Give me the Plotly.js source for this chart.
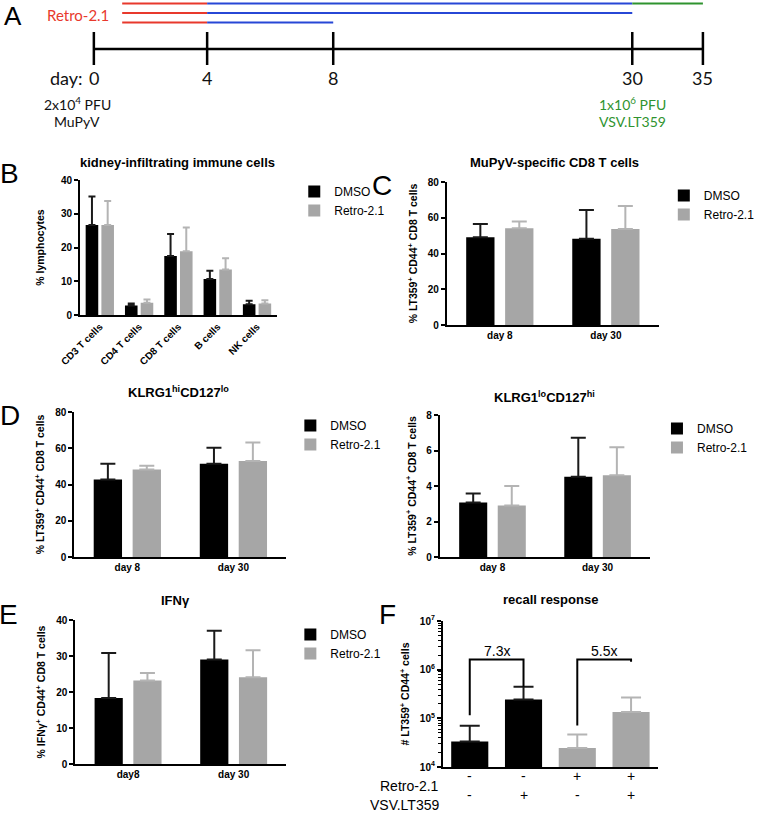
<!DOCTYPE html>
<html><head><meta charset="utf-8">
<script src="https://cdn.plot.ly/plotly-3.0.1.min.js"></script>
<style>html,body{margin:0;padding:0;background:#fff}#chart{width:760px;height:814px}</style>
</head><body><div id="chart"></div>
<script>
// ---------------- DATA ----------------
// Panel A: treatment schedule (days)
const timelineDays = [0, 4, 8, 30, 35];
const timelineLabels = ['0', '4', '8', '30', '35'];
const armRetroStart = [1, 1, 1];
const armRetroEnd = [4, 4, 4];
const armBlueEnd = [30, 30, 8];
const armGreenEnd = [35, null, null];

// Panel B
const bCats = ['CD3 T cells', 'CD4 T cells', 'CD8 T cells', 'B cells', 'NK cells'];
const bDmso = [26.7, 2.8, 17.5, 10.7, 3.2];
const bDmsoErr = [8.4, 0.6, 6.5, 2.4, 1.0];
const bRetro = [26.7, 3.6, 18.9, 13.5, 3.4];
const bRetroErr = [7.1, 1.0, 7.0, 3.3, 1.0];

// Panel C
const dayCats = ['day 8', 'day 30'];
const cDmso = [49.1, 48.3];
const cDmsoErr = [7.4, 16.0];
const cRetro = [54.1, 53.7];
const cRetroErr = [3.8, 12.9];

// Panel D (left: KLRG1hi CD127lo)
const dlDmso = [42.8, 51.4];
const dlDmsoErr = [8.6, 8.9];
const dlRetro = [48.3, 52.9];
const dlRetroErr = [2.0, 10.3];

// Panel D (right: KLRG1lo CD127hi)
const drDmso = [3.07, 4.52];
const drDmsoErr = [0.51, 2.2];
const drRetro = [2.9, 4.6];
const drRetroErr = [1.1, 1.58];

// Panel E
const eCats = ['day8', 'day 30'];
const eDmso = [18.3, 29.0];
const eDmsoErr = [12.5, 8.0];
const eRetro = [23.2, 24.1];
const eRetroErr = [2.1, 7.5];

// Panel F
const fRetroRow = ['-', '-', '+', '+'];
const fVsvRow = ['-', '+', '-', '+'];
const fDmso = [33500, 245000];
const fDmsoErr = [36500, 202000];
const fRetro = [24500, 135000];
const fRetroErr = [22000, 132000];
const fFold = ['7.3x', '5.5x'];
const bracket1Y = [116000, 1620000, 1620000, 447000];
const bracket2Y = [71000, 1620000, 1620000, 1450000];

// ---------------- STYLE / LAYOUT HELPERS ----------------
const W = 760, H = 814;
const px = v => v / W;
const py = v => 1 - v / H;
const F = 'Liberation Sans, Arial, sans-serif';
const FA = 'Lato, Open Sans, sans-serif';
const BLACK = '#000000', GRAY = '#a6a6a6', GRAYERR = '#b4b4b4', DERR = '#1a1a1a';
const RED = '#e8392c', BLUE = '#2747d6', GREEN = '#2f932f';

// schematic (not-to-scale) tick positions of the timeline
const tickFrac = [0, 0.186, 0.393, 0.884, 1];
function dayToX(d) {
  for (let i = 0; i < timelineDays.length - 1; i++) {
    const a = timelineDays[i], b = timelineDays[i + 1];
    if (d >= a && d <= b) return tickFrac[i] + (d - a) / (b - a) * (tickFrac[i + 1] - tickFrac[i]);
  }
  return 1;
}
const armRowY = [3.5, 13, 22.5];
const lineY = 49, tickTop = 32, tickBot = 65;

const traces = [];
// ---- Panel A traces ----
traces.push({type: 'scatter', mode: 'lines', xaxis: 'x', yaxis: 'y', showlegend: false, hoverinfo: 'skip',
  x: [dayToX(timelineDays[0]), dayToX(timelineDays[timelineDays.length - 1])], y: [lineY, lineY],
  line: {color: BLACK, width: 2.5}});
const tx = [], ty = [];
timelineDays.forEach(d => { tx.push(dayToX(d), dayToX(d), null); ty.push(tickTop, tickBot, null); });
traces.push({type: 'scatter', mode: 'lines', xaxis: 'x', yaxis: 'y', showlegend: false, hoverinfo: 'skip',
  x: tx, y: ty, line: {color: BLACK, width: 2.5}});
armRowY.forEach((yy, i) => {
  traces.push({type: 'scatter', mode: 'lines', xaxis: 'x', yaxis: 'y', showlegend: false, hoverinfo: 'skip',
    x: [dayToX(armRetroStart[i]), dayToX(armRetroEnd[i])], y: [yy, yy], line: {color: RED, width: 2}});
  traces.push({type: 'scatter', mode: 'lines', xaxis: 'x', yaxis: 'y', showlegend: false, hoverinfo: 'skip',
    x: [dayToX(armRetroEnd[i]), dayToX(armBlueEnd[i])], y: [yy, yy], line: {color: BLUE, width: 2}});
  if (armGreenEnd[i] != null) {
    traces.push({type: 'scatter', mode: 'lines', xaxis: 'x', yaxis: 'y', showlegend: false, hoverinfo: 'skip',
      x: [dayToX(armBlueEnd[i]), dayToX(armGreenEnd[i])], y: [yy, yy], line: {color: GREEN, width: 2}});
  }
});

// ---- grouped bar helper ----
function errObj(arr, color, w) {
  return {type: 'data', symmetric: false, array: arr, arrayminus: arr.map(() => 0), color: color, thickness: 2, width: w};
}
function pair(cats, d, de, r, re, xa, ya, legend, w, gap, capW) {
  traces.push({type: 'bar', name: 'DMSO', x: cats, y: d, xaxis: xa, yaxis: ya, legend: legend,
    marker: {color: BLACK, line: {width: 0}}, width: w, offset: -(w + gap / 2),
    error_y: errObj(de, DERR, capW), hoverinfo: 'y'});
  traces.push({type: 'bar', name: 'Retro-2.1', x: cats, y: r, xaxis: xa, yaxis: ya, legend: legend,
    marker: {color: GRAY, line: {width: 0}}, width: w, offset: gap / 2,
    error_y: errObj(re, GRAYERR, capW), hoverinfo: 'y'});
}
pair(bCats, bDmso, bDmsoErr, bRetro, bRetroErr, 'x2', 'y2', 'legend', 0.32, 0.08, 3.5);
pair(dayCats, cDmso, cDmsoErr, cRetro, cRetroErr, 'x3', 'y3', 'legend2', 0.267, 0.1, 7.5);
pair(dayCats, dlDmso, dlDmsoErr, dlRetro, dlRetroErr, 'x4', 'y4', 'legend3', 0.267, 0.1, 7.5);
pair(dayCats, drDmso, drDmsoErr, drRetro, drRetroErr, 'x5', 'y5', 'legend4', 0.267, 0.1, 7.5);
pair(eCats, eDmso, eDmsoErr, eRetro, eRetroErr, 'x6', 'y6', 'legend5', 0.267, 0.1, 7.5);

// ---- Panel F ----
traces.push({type: 'bar', name: 'DMSO', x: [1, 2], y: fDmso, xaxis: 'x7', yaxis: 'y7', showlegend: false,
  marker: {color: BLACK}, width: 0.69, error_y: errObj(fDmsoErr, DERR, 10)});
traces.push({type: 'bar', name: 'Retro-2.1', x: [3, 4], y: fRetro, xaxis: 'x7', yaxis: 'y7', showlegend: false,
  marker: {color: GRAY}, width: 0.69, error_y: errObj(fRetroErr, GRAYERR, 10)});
traces.push({type: 'scatter', mode: 'lines', x: [1, 1, 2, 2], y: bracket1Y, xaxis: 'x7', yaxis: 'y7', showlegend: false,
  hoverinfo: 'skip', line: {color: BLACK, width: 2}});
traces.push({type: 'scatter', mode: 'lines', x: [3, 3, 4, 4], y: bracket2Y, xaxis: 'x7', yaxis: 'y7', showlegend: false,
  hoverinfo: 'skip', line: {color: BLACK, width: 2}});

// ---------------- AXES ----------------
const tickFont = {family: F, size: 10, weight: 700, color: BLACK};
function yAx(top, bot, anchor, range, title, standoff, extra) {
  return Object.assign({domain: [py(bot), py(top)], anchor: anchor, range: range, showline: true, linewidth: 2,
    linecolor: BLACK, ticks: 'outside', ticklen: 4, tickwidth: 2, tickcolor: BLACK, showgrid: false,
    zeroline: false, tickfont: tickFont, fixedrange: true,
    title: {text: title, font: {family: F, size: 10.5, weight: 700, color: BLACK}, standoff: standoff}}, extra || {});
}
function xAx(l, r, anchor, extra) {
  return Object.assign({domain: [px(l), px(r)], anchor: anchor, showline: true, linewidth: 2, linecolor: BLACK,
    ticks: '', showgrid: false, zeroline: false, tickfont: tickFont, fixedrange: true}, extra || {});
}
function leg(xpx, ytop) {
  return {x: px(xpx), y: py(ytop), xanchor: 'left', yanchor: 'top', bgcolor: 'rgba(0,0,0,0)',
    font: {family: F, size: 12, color: BLACK}, itemwidth: 30, tracegroupgap: 0, traceorder: 'normal'};
}
const minorVals = [];
[4, 5, 6].forEach(e => { for (let k = 2; k <= 9; k++) minorVals.push(k * Math.pow(10, e)); });

const ann = [];
function txt(text, x, y, size, opts) {
  ann.push(Object.assign({text: text, x: px(x), y: py(y), xref: 'paper', yref: 'paper', showarrow: false,
    xanchor: 'center', yanchor: 'middle', font: {family: F, size: size, color: BLACK}}, opts || {}));
}
// panel letters
txt('A', 13, 16, 26);
txt('B', 10, 173, 28);
txt('C', 391, 186, 28);
txt('D', 10, 415, 28);
txt('E', 9, 614, 28);
txt('F', 396, 614, 28);
// panel A texts
txt('Retro-2.1', 80, 15, 15, {font: {family: FA, size: 15, color: RED}});
timelineDays.forEach((d, i) => {
  ann.push({text: timelineLabels[i], x: dayToX(d), y: 78, xref: 'x', yref: 'y', showarrow: false,
    xanchor: 'center', yanchor: 'middle', font: {family: FA, size: 18, color: '#111'}});
});
ann.push({text: 'day:', x: dayToX(0), y: 78, xref: 'x', yref: 'y', showarrow: false, xanchor: 'right', xshift: -9,
  yanchor: 'middle', font: {family: FA, size: 18, color: '#111'}});
txt('2x10<sup>4</sup> PFU', 79, 104, 14, {font: {family: FA, size: 14, color: '#111'}});
txt('MuPyV', 79, 122, 14, {font: {family: FA, size: 14, color: '#111'}});
txt('1x10<sup>6</sup> PFU', 647, 103, 14, {font: {family: FA, size: 14, color: GREEN}});
txt('VSV.LT359', 647, 122, 14, {font: {family: FA, size: 14, color: GREEN}});
// chart titles
const tf = {family: F, size: 13, weight: 700, color: BLACK};
txt('kidney-infiltrating immune cells', 182, 162, 13, {font: tf});
txt('MuPyV-specific CD8 T cells', 567, 162, 13, {font: tf});
txt('KLRG1<sup>hi</sup>CD127<sup>lo</sup>', 183, 392, 13, {font: tf});
txt('KLRG1<sup>lo</sup>CD127<sup>hi</sup>', 557, 397, 13, {font: tf});
txt('IFNγ', 180, 600, 13, {font: tf});
txt('recall response', 563, 599, 13, {font: tf});
// panel F
fFold.forEach((t, i) => {
  ann.push({text: t, x: 1.5 + 2 * i, y: 6.38, xref: 'x7', yref: 'y7', showarrow: false, xanchor: 'center',
    yanchor: 'middle', font: {family: F, size: 14, color: BLACK}});
});
txt('Retro-2.1', 451, 786, 14, {xanchor: 'right'});
txt('VSV.LT359', 451, 805, 14, {xanchor: 'right'});
fRetroRow.forEach((s, i) => ann.push({text: s, x: i + 1, y: py(786), xref: 'x7', yref: 'paper', showarrow: false,
  font: {family: F, size: 14, color: BLACK}}));
fVsvRow.forEach((s, i) => ann.push({text: s, x: i + 1, y: py(805), xref: 'x7', yref: 'paper', showarrow: false,
  font: {family: F, size: 14, color: BLACK}}));

const layout = {
  width: W, height: H, margin: {l: 0, r: 0, t: 0, b: 0}, paper_bgcolor: '#fff', plot_bgcolor: 'rgba(0,0,0,0)',
  font: {family: F, color: BLACK}, barmode: 'group', showlegend: true,
  xaxis: {domain: [px(90), px(725)], range: [(90 - 96) / 623, (725 - 96) / 623], visible: false, fixedrange: true},
  yaxis: {domain: [py(130), py(0)], range: [130, 0], visible: false, fixedrange: true},
  xaxis2: xAx(82, 283, 'y2', {tickangle: -45}),
  yaxis2: yAx(180, 315, 'x2', [0, 40], '% lymphocytes', 14, {dtick: 10}),
  xaxis3: xAx(457, 674, 'y3'),
  yaxis3: yAx(182, 325, 'x3', [0, 80], '% LT359<sup>+</sup> CD44<sup>+</sup> CD8 T cells', 8, {dtick: 20}),
  xaxis4: xAx(76, 293, 'y4'),
  yaxis4: yAx(412, 557, 'x4', [0, 80], '% LT359<sup>+</sup> CD44<sup>+</sup> CD8 T cells', 8, {dtick: 20}),
  xaxis5: xAx(450, 665, 'y5'),
  yaxis5: yAx(415, 557, 'x5', [0, 8], '% LT359<sup>+</sup> CD44<sup>+</sup> CD8 T cells', 8, {dtick: 2}),
  xaxis6: xAx(77, 293, 'y6'),
  yaxis6: yAx(620, 764, 'x6', [0, 40], '% IFNγ<sup>+</sup> CD44<sup>+</sup> CD8 T cells', 8, {dtick: 10}),
  xaxis7: xAx(453, 673, 'y7', {range: [0.5, 4.5], showticklabels: false}),
  yaxis7: yAx(621, 767, 'x7', [4, 7], '# LT359<sup>+</sup> CD44<sup>+</sup> cells', 8,
    {type: 'log', tickvals: [1e4, 1e5, 1e6, 1e7],
     ticktext: ['10<sup>4</sup>', '10<sup>5</sup>', '10<sup>6</sup>', '10<sup>7</sup>'],
     minor: {tickvals: minorVals, ticks: 'outside', ticklen: 3, tickwidth: 1, tickcolor: BLACK}}),
  legend: leg(301, 177),
  legend2: leg(679, 181),
  legend3: leg(297, 411),
  legend4: leg(672, 414),
  legend5: leg(297, 620),
  annotations: ann
};

Plotly.newPlot('chart', traces, layout, {displayModeBar: false, staticPlot: true});
</script>
</body></html>
